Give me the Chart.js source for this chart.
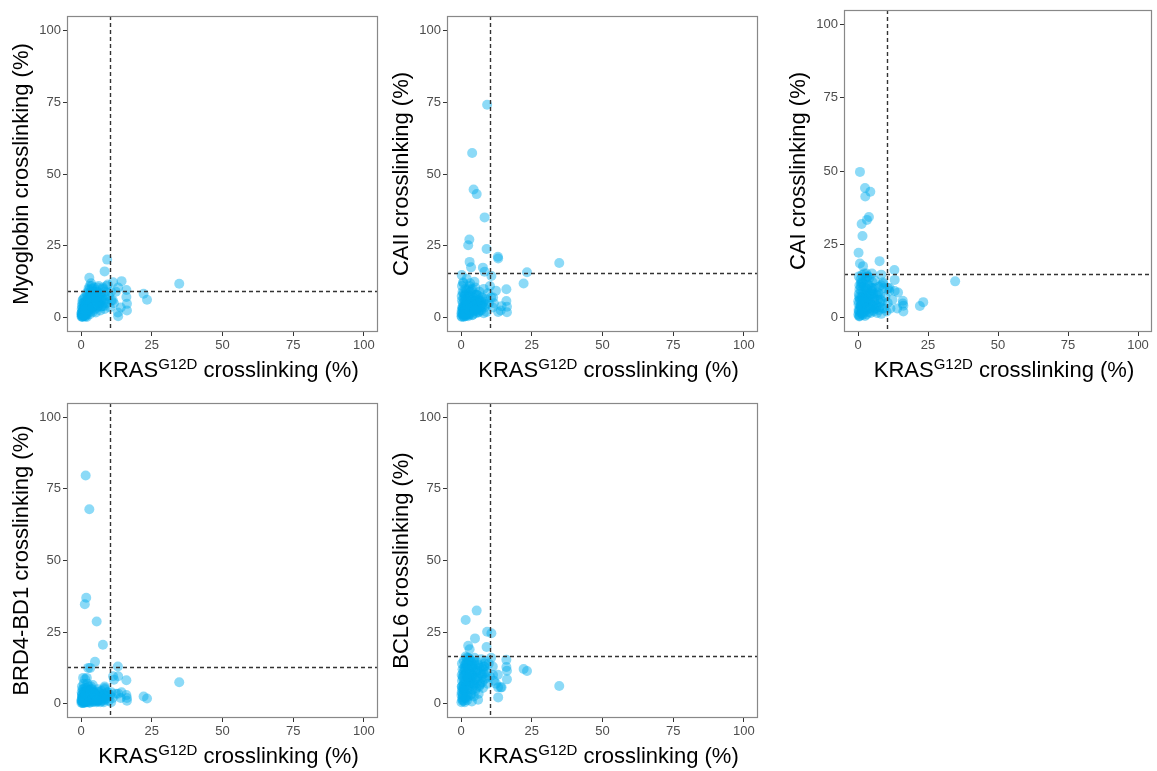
<!DOCTYPE html>
<html>
<head>
<meta charset="utf-8">
<script src="https://cdn.jsdelivr.net/npm/chart.js@4.4.1/dist/chart.umd.min.js"></script>
<style>
    body { margin: 0; background: #fff; }
    #wrap { position: relative; width: 1157px; height: 771px; overflow: hidden; }
    #wrap canvas { position: absolute; }
</style>
</head>
<body>
<div id="wrap"></div>
<script>
// shared x: KRAS G12D crosslinking (%) for each compound
const kras = [
    34.7, 22.1, 23.3, 16.0, 16.0, 16.2, 16.2, 13.1, 13.0, 13.1,
    14.3, 12.3, 11.3, 11.6, 14.0, 9.2, 3.9, 4.4, 5.5, 8.3,
    2.9, 2.5, 9.0, 1.6, 1.8, 1.3, 0.7, 2.6, 3.2, 0.2,
    7.7, 0.7, 4.9, 10.7, 3.0, 3.5, 8.3, 6.0, 5.0,
    0.1, 0.2, 0.3, 0.4, 0.5, 0.6, 0.8, 0.9, 1.0, 1.1,
    1.2, 1.4, 1.5, 1.7, 1.9, 2.0, 2.2, 2.4, 2.6, 2.8,
    3.0, 3.1, 3.3, 3.5, 3.7, 3.9, 4.1, 4.3, 4.5, 4.7,
    5.0, 5.2, 5.4, 5.6, 5.9, 6.2, 6.5, 6.8, 7.1, 7.4,
    7.7, 8.0, 8.3, 8.6, 9.0, 9.4, 9.8, 10.2, 10.6, 11.2,
    0.3, 0.6, 1.0, 1.3, 1.6, 2.1, 2.5, 3.2, 3.8, 4.4,
    5.0, 5.7, 6.4, 7.2, 8.0, 0.2, 0.5, 0.9, 1.4, 2.0,
    0.1, 0.3, 0.5, 0.7, 0.9, 1.1, 1.3, 1.5, 1.7, 1.9,
    2.1, 2.3, 2.5, 2.7, 2.9, 3.1, 3.4, 3.6, 3.9, 4.2,
    4.6, 5.0, 5.3, 5.8, 6.1, 6.6, 7.0, 7.5, 8.1, 8.8,
    0.4, 0.8, 1.2, 1.6, 2.2, 2.8, 3.4, 4.0, 4.8, 5.5
];

const myoglobin = [
    11.8, 8.3, 6.2, 9.6, 7.2, 4.8, 2.5, 0.5, 1.8, 10.5,
    12.7, 9.0, 12.3, 5.0, 3.5, 20.2, 10.0, 8.0, 9.0, 16.1,
    13.9, 6.0, 11.0, 3.0, 4.0, 2.0, 1.0, 7.0, 8.0, 1.0,
    10.0, 2.0, 9.0, 6.0, 11.0, 12.0, 8.0, 5.0, 6.0,
    0.5, 3.0, 1.2, 5.0, 0.3, 2.5, 6.5, 1.0, 4.0, 0.8,
    7.0, 2.0, 5.5, 0.6, 8.5, 3.5, 6.0, 1.5, 10.0, 4.5,
    7.5, 1.2, 9.0, 3.0, 11.0, 5.5, 2.0, 8.0, 10.5, 4.0,
    6.5, 1.8, 9.5, 3.5, 7.0, 11.0, 5.0, 2.5, 8.5, 4.0,
    10.5, 6.0, 3.0, 9.0, 5.0, 11.5, 7.5, 3.5, 9.0, 6.0,
    4.0, 0.5, 2.0, 3.5, 1.0, 5.0, 7.5, 5.0, 7.0, 6.0,
    3.0, 8.0, 7.0, 6.0, 4.0, 1.8, 6.0, 5.0, 0.4, 0.2,
    1.5, 0.2, 2.2, 3.8, 0.6, 2.8, 1.0, 4.2, 3.0, 5.5,
    1.8, 4.8, 2.5, 6.5, 3.2, 5.8, 8.2, 2.4, 6.8, 9.2,
    3.8, 7.5, 5.0, 10.5, 4.0, 8.0, 3.8, 7.0, 5.0, 6.5,
    0.8, 3.0, 5.5, 2.8, 7.8, 9.5, 6.2, 3.5, 8.5, 5.5
];

const caii = [
    19.0, 11.9, 15.8, 9.9, 5.8, 3.8, 1.9, 2.0, 21.2, 20.6,
    4.0, 9.4, 7.0, 5.0, 2.5, 74.1, 57.3, 44.6, 43.0, 34.9,
    27.2, 25.2, 23.9, 8.0, 5.0, 6.0, 3.0, 10.0, 12.0, 14.8,
    17.4, 12.3, 8.0, 14.5, 19.4, 17.5, 16.0, 2.0, 6.0,
    0.5, 2.5, 6.0, 1.0, 9.0, 3.0, 12.0, 0.5, 4.5, 1.5,
    7.5, 2.5, 10.0, 0.8, 5.0, 13.5, 3.0, 1.0, 8.0, 4.0,
    11.0, 1.5, 6.0, 2.5, 9.5, 4.5, 1.0, 7.0, 3.0, 12.5,
    5.0, 1.5, 8.0, 3.0, 6.0, 1.8, 9.0, 4.0, 2.5, 7.0,
    5.0, 10.0, 3.5, 6.5, 2.0, 8.5, 5.0, 11.0, 7.0, 3.5,
    11.0, 5.0, 0.3, 8.0, 3.5, 6.0, 0.5, 9.0, 4.0, 5.0,
    10.5, 5.5, 6.0, 4.5, 1.5, 7.5, 1.8, 2.5, 4.5, 1.2,
    1.5, 0.2, 3.5, 1.0, 6.5, 2.0, 4.0, 0.5, 2.8, 9.5,
    5.0, 1.8, 7.0, 3.2, 1.0, 4.8, 2.2, 6.8, 0.8, 3.6,
    5.8, 2.2, 4.5, 3.0, 7.5, 2.5, 6.0, 3.8, 5.5, 4.5,
    3.5, 8.5, 1.2, 6.0, 4.2, 2.8, 7.5, 10.0, 2.5, 8.0
];

const cai = [
    12.3, 3.9, 5.2, 5.7, 4.7, 2.0, 4.0, 9.0, 16.2, 12.8,
    8.5, 6.0, 10.0, 3.0, 3.0, 10.0, 34.3, 42.9, 8.0, 14.6,
    5.0, 44.2, 12.0, 27.8, 17.5, 31.9, 49.7, 41.3, 33.3, 22.1,
    19.2, 18.4, 10.0, 10.0, 15.0, 14.0, 11.0, 3.0, 15.0,
    1.0, 4.5, 8.0, 0.5, 11.0, 2.5, 6.0, 13.0, 1.5, 9.0,
    3.5, 14.5, 7.0, 0.8, 11.5, 4.5, 15.0, 2.0, 9.0, 12.5,
    5.0, 1.0, 14.0, 7.5, 3.0, 11.0, 13.5, 5.5, 1.5, 9.0,
    4.0, 12.0, 7.0, 2.0, 10.0, 4.5, 8.0, 1.5, 6.0, 10.5,
    3.5, 8.0, 1.2, 5.5, 11.5, 3.0, 7.0, 2.0, 5.0, 9.0,
    14.0, 6.5, 10.5, 5.0, 12.0, 8.0, 0.5, 9.5, 6.0, 3.0,
    10.0, 5.5, 3.0, 8.5, 5.0, 2.5, 0.3, 4.0, 2.5, 6.5,
    5.5, 2.0, 9.5, 0.6, 4.0, 12.0, 6.5, 2.2, 8.5, 4.5,
    10.5, 1.8, 6.5, 13.5, 3.0, 8.0, 5.5, 11.0, 1.8, 7.5,
    4.5, 9.0, 2.5, 6.5, 12.5, 4.0, 7.5, 2.5, 6.0, 3.0,
    7.0, 3.5, 11.5, 1.2, 5.5, 10.0, 3.5, 6.5, 8.0, 4.0
];

const brd4 = [
    7.5, 2.5, 1.8, 8.2, 3.0, 1.0, 2.0, 3.5, 13.0, 9.6,
    4.0, 3.5, 9.6, 8.4, 2.0, 4.0, 5.0, 4.0, 28.7, 6.0,
    67.9, 12.5, 3.0, 79.7, 37.0, 34.7, 2.0, 3.0, 12.5, 1.0,
    20.6, 9.0, 14.6, 4.0, 2.0, 6.0, 5.0, 1.0, 3.0,
    0.3, 1.5, 3.0, 0.5, 5.0, 1.0, 2.5, 7.0, 0.4, 4.0,
    1.5, 8.5, 3.0, 0.8, 5.5, 2.0, 0.5, 3.5, 6.0, 1.2,
    4.5, 0.3, 2.5, 5.0, 1.0, 3.0, 6.5, 0.8, 2.0, 4.0,
    1.0, 3.5, 0.5, 2.5, 5.0, 1.5, 3.0, 0.5, 4.5, 2.0,
    1.0, 3.5, 5.5, 1.5, 2.5, 4.0, 1.0, 3.0, 0.5, 2.0,
    6.0, 2.5, 1.8, 0.6, 4.5, 3.0, 1.0, 1.5, 2.0, 3.5,
    2.0, 0.8, 4.0, 1.0, 0.5, 4.0, 2.0, 0.2, 5.5, 9.0,
    1.0, 3.0, 0.2, 2.0, 4.2, 0.6, 2.8, 1.2, 3.8, 0.5,
    2.2, 4.8, 1.0, 3.2, 0.4, 2.0, 4.0, 1.2, 2.8, 0.6,
    3.5, 1.5, 2.5, 4.2, 1.0, 2.2, 3.0, 1.5, 2.8, 1.8,
    2.2, 5.0, 1.0, 3.0, 7.0, 2.5, 4.5, 1.8, 3.0, 1.2
];

const bcl6 = [
    6.2, 12.1, 11.4, 15.3, 12.8, 11.5, 8.5, 2.2, 10.1, 5.7,
    5.7, 7.0, 10.0, 8.0, 5.7, 25.1, 9.0, 10.0, 32.5, 13.0,
    9.0, 20.2, 19.8, 29.2, 14.0, 12.0, 5.0, 16.0, 7.0, 6.0,
    12.0, 3.0, 22.8, 24.6, 19.0, 15.0, 14.0, 1.4, 13.0,
    0.5, 4.0, 8.0, 1.5, 12.0, 3.0, 6.5, 15.0, 1.0, 10.0,
    4.5, 13.5, 7.5, 2.0, 11.0, 16.0, 5.0, 9.0, 2.5, 13.0,
    6.5, 15.5, 3.0, 10.5, 8.0, 14.0, 5.0, 12.0, 2.5, 16.0,
    8.5, 11.0, 5.5, 14.5, 9.5, 3.5, 12.5, 7.0, 15.5, 10.0,
    5.5, 13.0, 8.5, 15.0, 11.0, 7.0, 14.0, 9.5, 16.0, 13.0,
    14.0, 9.5, 5.5, 0.5, 16.5, 1.2, 12.0, 8.5, 0.8, 7.0,
    13.5, 11.5, 6.0, 9.0, 10.5, 10.0, 2.0, 7.0, 3.5, 14.5,
    3.0, 6.0, 1.0, 9.0, 4.5, 12.5, 2.0, 10.5, 6.0, 13.5,
    3.0, 8.0, 15.0, 5.0, 11.0, 7.5, 13.0, 3.5, 10.0, 6.0,
    14.5, 4.5, 11.5, 8.0, 13.5, 6.5, 10.5, 7.5, 12.0, 9.0,
    5.0, 11.0, 8.0, 12.5, 9.5, 15.5, 10.5, 13.0, 6.5, 9.0
];

const tickVals = [0, 25, 50, 75, 100];
const xCutoff = 10.3;
const xTitleMain = 'KRAS';
const xTitleSup = 'G12D';
const xTitleRest = ' crosslinking (%)';

// one entry per panel: where the plot frame sits on the page
const panels = [
    { title: 'Myoglobin crosslinking (%)', values: myoglobin, cutoff: 9.1, left: 67, top: 16, w: 312, h: 316 },
    { title: 'CAII crosslinking (%)', values: caii, cutoff: 15.6, left: 447, top: 16, w: 312, h: 316 },
    { title: 'CAI crosslinking (%)', values: cai, cutoff: 14.8, left: 844, top: 10, w: 309, h: 322 },
    { title: 'BRD4-BD1 crosslinking (%)', values: brd4, cutoff: 12.7, left: 67, top: 403, w: 312, h: 315 },
    { title: 'BCL6 crosslinking (%)', values: bcl6, cutoff: 16.8, left: 447, top: 403, w: 312, h: 315 }
];

const Y_AXIS_W = 67;
const X_AXIS_H = 53;
const RIGHT_PAD = 4;
const FONT = '"Liberation Sans", Arial, sans-serif';

const framePlugin = {
    id: 'frameAndCutoffs',
    afterDatasetsDraw(chart, args, opts) {
        const { ctx, chartArea: a, scales } = chart;
        ctx.save();
        ctx.strokeStyle = '#333';
        ctx.lineWidth = 1.4;
        ctx.setLineDash([4, 3]);
        const xv = Math.round(scales.x.getPixelForValue(xCutoff)) + 0.5;
        const yh = Math.round(scales.y.getPixelForValue(opts.cutoff)) + 0.5;
        ctx.beginPath();
        ctx.moveTo(xv, a.top);
        ctx.lineTo(xv, a.bottom);
        ctx.moveTo(a.left, yh);
        ctx.lineTo(a.right, yh);
        ctx.stroke();
        ctx.setLineDash([]);
        ctx.strokeStyle = '#888';
        ctx.lineWidth = 1.2;
        ctx.strokeRect(a.left + 0.5, a.top + 0.5, a.right - a.left - 1, a.bottom - a.top - 1);

        // x title with superscript
        ctx.fillStyle = '#000';
        ctx.textBaseline = 'alphabetic';
        ctx.textAlign = 'left';
        const big = '22px ' + FONT;
        const small = '15px ' + FONT;
        ctx.font = big;
        const w1 = ctx.measureText(xTitleMain).width;
        const w3 = ctx.measureText(xTitleRest).width;
        ctx.font = small;
        const w2 = ctx.measureText(xTitleSup).width;
        const total = w1 + w2 + w3;
        let x = (a.left + a.right) / 2 + 6 - total / 2;
        const base = a.bottom + 45;
        ctx.font = big;
        ctx.fillText(xTitleMain, x, base);
        x += w1;
        ctx.font = small;
        ctx.fillText(xTitleSup, x, base - 8);
        x += w2;
        ctx.font = big;
        ctx.fillText(xTitleRest, x, base);
        ctx.restore();
    }
};

function makeTicks(scale) {
    scale.ticks = tickVals.map(v => ({ value: v }));
}

function axisGrid() {
    return {
        display: true,
        drawOnChartArea: false,
        drawTicks: true,
        tickLength: 4,
        tickColor: '#333',
        tickWidth: 1
    };
}

function buildPanel(p) {
    const wrap = document.getElementById('wrap');
    const canvas = document.createElement('canvas');
    const cw = Y_AXIS_W + p.w + RIGHT_PAD;
    const ch = p.top + p.h + X_AXIS_H;
    const canvasTop = p.top < 100 ? 0 : 387;
    canvas.width = cw;
    canvas.height = ch - canvasTop;
    canvas.style.left = (p.left - Y_AXIS_W) + 'px';
    canvas.style.top = canvasTop + 'px';
    wrap.appendChild(canvas);

    const points = kras.map((x, i) => ({ x: x, y: p.values[i] }));

    new Chart(canvas.getContext('2d'), {
        type: 'scatter',
        data: {
            datasets: [{
                data: points,
                backgroundColor: 'rgba(0, 172, 238, 0.45)',
                borderWidth: 0,
                pointRadius: 5,
                pointHoverRadius: 5
            }]
        },
        options: {
            responsive: false,
            animation: false,
            events: [],
            layout: { padding: { top: p.top - canvasTop, right: RIGHT_PAD, left: 0, bottom: 0 } },
            plugins: {
                legend: { display: false },
                tooltip: { enabled: false },
                frameAndCutoffs: { cutoff: p.cutoff }
            },
            scales: {
                x: {
                    type: 'linear',
                    min: -5,
                    max: 105,
                    afterBuildTicks: makeTicks,
                    afterFit: (s) => { s.height = X_AXIS_H; },
                    grid: axisGrid(),
                    border: { display: false },
                    ticks: { color: '#4d4d4d', font: { family: FONT, size: 13 }, padding: 2, maxRotation: 0 }
                },
                y: {
                    type: 'linear',
                    min: -5,
                    max: 105,
                    afterBuildTicks: makeTicks,
                    afterFit: (s) => { s.width = Y_AXIS_W; },
                    grid: axisGrid(),
                    border: { display: false },
                    ticks: { color: '#4d4d4d', font: { family: FONT, size: 13 }, padding: 2 },
                    title: {
                        display: true,
                        text: p.title,
                        color: '#000',
                        font: { family: FONT, size: 22 },
                        padding: { top: 9, bottom: 0 }
                    }
                }
            }
        },
        plugins: [framePlugin]
    });
}

panels.forEach(buildPanel);
</script>
</body>
</html>
